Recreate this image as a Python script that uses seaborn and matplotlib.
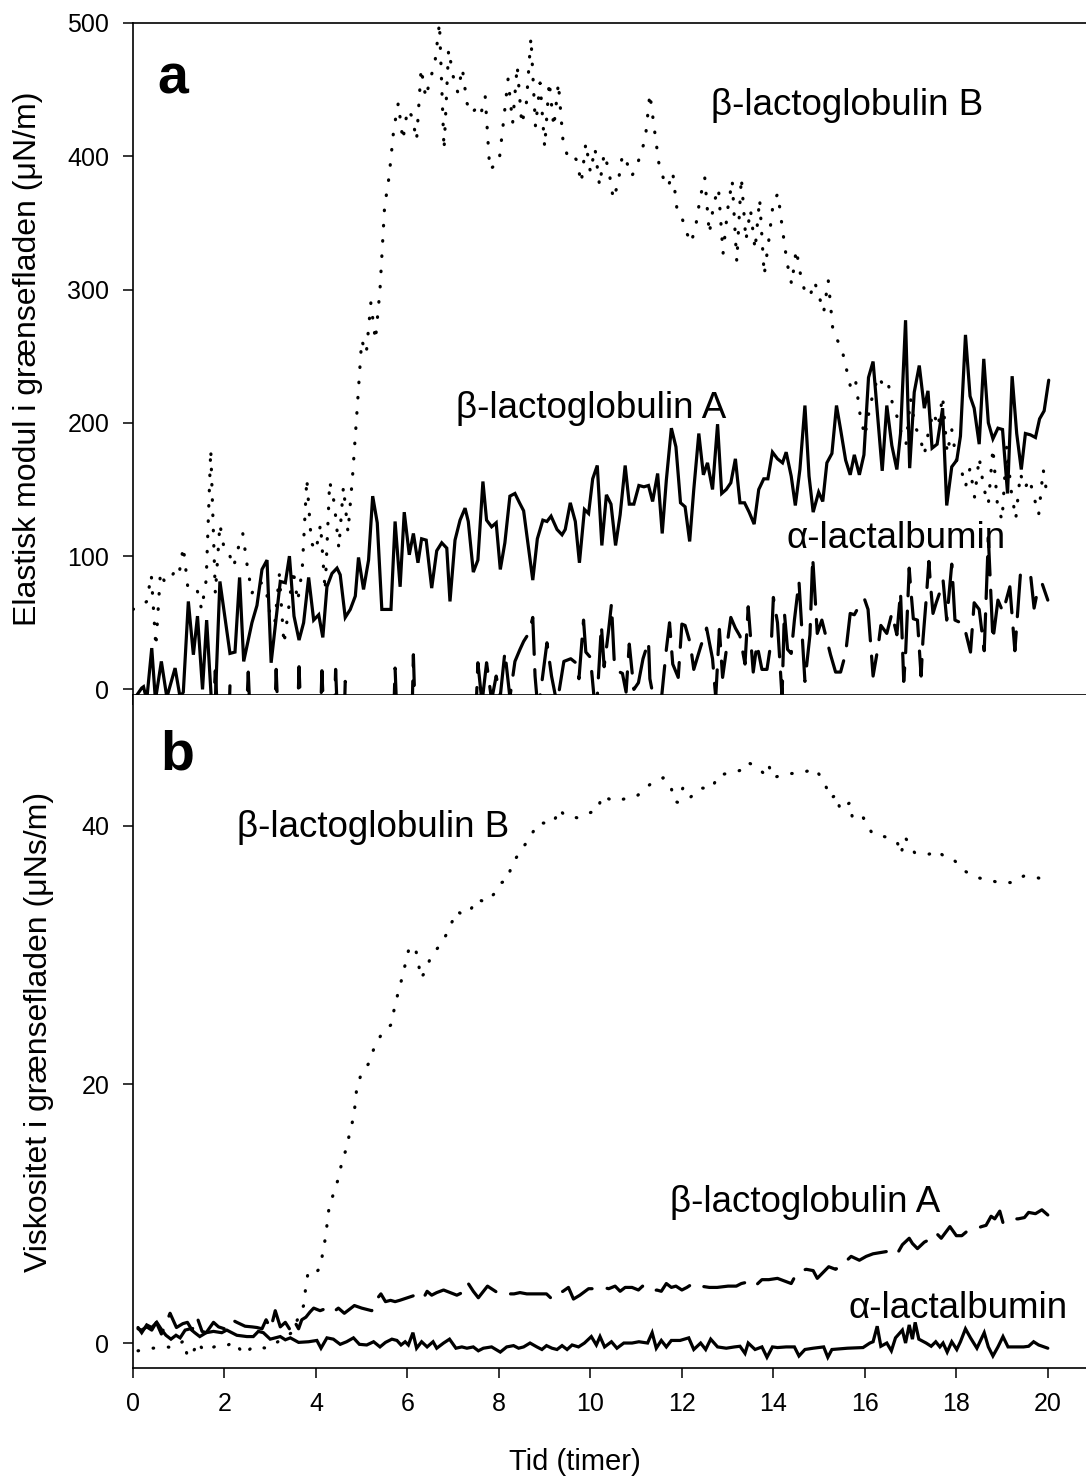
import numpy as np
import pandas as pd
import matplotlib
matplotlib.use("Agg")
import matplotlib.pyplot as plt
import seaborn as sns

sns.set_theme(style="white")
plt.rcParams["font.family"] = ["Liberation Sans", "DejaVu Sans"]
plt.rcParams["lines.scale_dashes"] = False
plt.rcParams.update({"text.color": "black", "axes.labelcolor": "black",
                     "xtick.color": "black", "ytick.color": "black"})

# ---------------- panel a: elastic modulus (uN/m) ----------------
# beta-lactoglobulin B (dotted), sampled every 0.1 h
tB_a = [round(0.1 * i, 1) for i in range(201)]
vB_a = [60, 62, 63, 66, 86, 32, 88, 80, 82, 88,
        85, 107, 76, 74, 75, 60, 82, 180, 72, 124,
        104, 102, 92, 106, 117, 92, 72, 80, 80, 77,
        55, 50, 86, 34, 60, 90, 66, 90, 158, 110,
        104, 124, 74, 156, 140, 106, 152, 118, 160, 210,
        262, 252, 290, 262, 300, 362, 385, 420, 440, 412,
        435, 430, 412, 466, 444, 458, 470, 500, 405, 480,
        460, 448, 466, 440, 432, 436, 431, 445, 390, 393,
        395, 426, 458, 425, 468, 424, 440, 489, 422, 455,
        407, 456, 422, 455, 412, 400, 402, 397, 380, 410,
        388, 406, 378, 402, 390, 368, 379, 401, 395, 385,
        391, 402, 413, 447, 420, 394, 383, 377, 388, 358,
        354, 343, 335, 347, 369, 384, 342, 365, 376, 327,
        360, 382, 321, 384, 337, 360, 330, 368, 311, 337,
        366, 372, 345, 320, 304, 330, 310, 297, 295, 306,
        295, 283, 307, 270, 262, 255, 240, 225, 231, 205,
        190, 210, 225, 235, 228, 231, 215, 205, 192, 184,
        218, 197, 190, 176, 195, 208, 197, 220, 177, 195,
        172, 166, 152, 166, 144, 174, 151, 139, 181, 138,
        127, 182, 149, 128, 162, 151, 158, 144, 131, 165,
        142]

# beta-lactoglobulin A (solid)
tA_a = [0.05, 0.19, 0.23, 0.3, 0.41, 0.49, 0.62, 0.74, 0.92, 1.03,
        1.1, 1.21, 1.32, 1.41, 1.52, 1.61, 1.71, 1.8, 1.9, 2.12,
        2.23, 2.33, 2.42, 2.6, 2.71, 2.82, 2.93, 3.02, 3.22, 3.33,
        3.42, 3.52, 3.63, 3.73, 3.84, 3.95, 4.06, 4.15, 4.24, 4.35,
        4.46, 4.53, 4.64, 4.75, 4.86, 4.93, 5.04, 5.15, 5.24, 5.34,
        5.44, 5.54, 5.64, 5.73, 5.84, 5.93, 6.04, 6.13, 6.23, 6.31,
        6.41, 6.53, 6.64, 6.75, 6.86, 6.93, 7.04, 7.15, 7.26, 7.33,
        7.44, 7.54, 7.65, 7.73, 7.84, 7.94, 8.03, 8.13, 8.24, 8.35,
        8.45, 8.54, 8.74, 8.84, 8.96, 9.05, 9.14, 9.27, 9.38, 9.45,
        9.56, 9.67, 9.76, 9.87, 9.96, 10.05, 10.15, 10.25, 10.35, 10.45,
        10.55, 10.65, 10.76, 10.85, 10.95, 11.06, 11.17, 11.27, 11.36, 11.47,
        11.57, 11.66, 11.77, 11.87, 11.97, 12.07, 12.17, 12.26, 12.37, 12.47,
        12.56, 12.67, 12.78, 12.87, 12.97, 13.07, 13.17, 13.27, 13.37, 13.47,
        13.58, 13.68, 13.79, 13.88, 13.98, 14.09, 14.2, 14.28, 14.39, 14.48,
        14.58, 14.69, 14.78, 14.87, 14.99, 15.08, 15.17, 15.28, 15.38, 15.47,
        15.58, 15.68, 15.77, 15.88, 15.98, 16.08, 16.18, 16.28, 16.38, 16.48,
        16.59, 16.7, 16.78, 16.89, 16.98, 17.08, 17.19, 17.3, 17.38, 17.47,
        17.58, 17.7, 17.79, 17.9, 18.01, 18.09, 18.2, 18.3, 18.39, 18.5,
        18.6, 18.7, 18.8, 18.91, 19.01, 19.12, 19.22, 19.32, 19.42, 19.51,
        19.62, 19.73, 19.82, 19.92, 20.02]
vA_a = [-6, 1, 2, -8, 31, -8, 21, -6, 16, -6,
        -2, 66, 26, 55, 0, 52, -6, -8, 81, 27,
        28, 84, 21, 50, 63, 90, 97, 20, 81, 80,
        100, 55, 37, 50, 84, 52, 56, 39, 77, 87,
        91, 86, 54, 60, 70, 99, 75, 97, 145, 125,
        60, 60, 60, 126, 77, 133, 101, 117, 95, 113,
        112, 76, 104, 110, 106, 66, 112, 127, 136, 126,
        88, 97, 156, 127, 122, 125, 90, 110, 145, 147,
        140, 134, 82, 113, 127, 126, 130, 120, 116, 120,
        140, 126, 95, 135, 132, 158, 168, 108, 146, 139,
        108, 131, 168, 139, 139, 153, 152, 153, 141, 162,
        117, 157, 196, 182, 140, 137, 111, 150, 192, 161,
        170, 150, 199, 147, 150, 155, 173, 140, 140, 133,
        124, 150, 158, 158, 178, 173, 170, 178, 160, 138,
        165, 213, 160, 133, 148, 141, 170, 177, 213, 195,
        172, 161, 176, 161, 176, 234, 246, 205, 164, 213,
        183, 165, 192, 277, 166, 223, 243, 211, 224, 181,
        184, 211, 138, 167, 172, 190, 266, 220, 211, 184,
        248, 200, 188, 196, 195, 147, 235, 192, 165, 192,
        191, 189, 203, 209, 232]

# alpha-lactalbumin (dashed)
tL_a = [0.0, 1.75, 1.8, 1.85, 2.1, 2.12, 2.15, 2.48, 2.52, 2.56,
        3.1, 3.13, 3.17, 3.6, 3.63, 3.67, 4.1, 4.13, 4.17, 4.4,
        4.43, 4.47, 4.62, 4.64, 4.67, 5.7, 5.73, 5.77, 6.1, 6.13,
        6.17, 7.5, 7.54, 7.63, 7.73, 7.84, 7.94, 8.03, 8.13, 8.24,
        8.35, 8.46, 8.54, 8.65, 8.74, 8.79, 8.84, 8.9, 9.05, 9.15,
        9.27, 9.42, 9.57, 9.68, 9.75, 9.85, 9.9, 10.0, 10.09, 10.15,
        10.24, 10.3, 10.39, 10.46, 10.52, 10.58, 10.7, 10.78, 10.85, 10.95,
        11.05, 11.15, 11.27, 11.3, 11.4, 11.55, 11.66, 11.73, 11.8, 11.92,
        12.0, 12.07, 12.18, 12.26, 12.41, 12.54, 12.67, 12.74, 12.82, 12.89,
        12.97, 13.07, 13.17, 13.27, 13.38, 13.45, 13.56, 13.64, 13.75, 13.86,
        13.96, 14.0, 14.09, 14.19, 14.24, 14.31, 14.39, 14.46, 14.56, 14.63,
        14.69, 14.8, 14.86, 14.96, 15.06, 15.17, 15.25, 15.36, 15.47, 15.58,
        15.68, 15.77, 15.88, 15.99, 16.07, 16.18, 16.29, 16.35, 16.48, 16.59,
        16.7, 16.78, 16.85, 16.89, 16.97, 17.0, 17.06, 17.15, 17.23, 17.27,
        17.34, 17.4, 17.43, 17.49, 17.56, 17.64, 17.71, 17.79, 17.9, 17.97,
        18.16, 18.31, 18.39, 18.5, 18.61, 18.7, 18.8, 18.91, 19.02, 19.17,
        19.28, 19.4, 19.51, 19.62, 19.7, 19.77, 19.88, 20.0]
vL_a = [-20, -20, 14, -20, -20, 3, -20, -20, 13, -20,
        -20, 15, -20, -20, 17, -20, -20, 14, -20, -20,
        15, -20, -20, 6, -20, -20, 16, -20, -20, 26,
        -20, -15, 20, -10, 20, -8, 10, -5, 28, -6,
        21, 30, 36, 42, 54, 10, -10, -5, 35, 10,
        -11, 21, 23, 20, 8, 52, 28, 24, -10, -6,
        48, 17, 42, 64, 22, 14, 12, -2, 34, 0,
        5, 23, 36, 8, -10, -8, 30, 50, 19, 9,
        49, 48, 35, 15, 32, 46, 23, -6, 45, 9,
        29, 54, 46, 40, 19, 62, 13, 34, 15, 15,
        38, 69, 50, -6, 58, 30, 27, 52, 81, 40,
        6, 41, 99, 42, 52, 37, 26, 13, 13, 27,
        57, 56, 63, 68, 60, 10, 32, 48, 42, 57,
        41, 73, 6, 26, 91, 77, 53, 52, 10, 37,
        67, 96, 81, 57, 65, 73, 82, 52, 94, 52,
        49, 28, 65, 60, 29, 114, 37, 67, 58, 77,
        29, 86, 85, 87, 61, 73, 79, 67]

# ---------------- panel b: viscosity (uNs/m) ----------------
tB_b = [0.11, 0.43, 0.72, 0.9, 1.12, 1.19, 1.29, 1.42, 1.54, 1.85,
        2.05, 2.22, 2.42, 2.61, 2.95, 3.47, 3.73, 3.77, 3.82, 3.91,
        4.09, 4.15, 4.21, 4.25, 4.29, 4.38, 4.47, 4.55, 4.65, 4.73,
        4.81, 4.86, 4.89, 4.98, 5.15, 5.27, 5.45, 5.64, 5.71, 5.79,
        5.88, 5.96, 6.04, 6.17, 6.24, 6.29, 6.41, 6.51, 6.77, 6.93,
        7.08, 7.21, 7.37, 7.5, 7.73, 7.94, 8.06, 8.19, 8.28, 8.45,
        8.66, 8.86, 9.19, 9.32, 9.43, 9.72, 9.99, 10.17, 10.24, 10.52,
        10.79, 11.02, 11.34, 11.59, 11.76, 11.82, 11.91, 12.03, 12.19, 12.39,
        12.67, 12.78, 13.11, 13.3, 13.42, 13.63, 13.77, 13.89, 13.98, 14.3,
        14.63, 14.92, 15.12, 15.25, 15.38, 15.46, 15.68, 15.73, 15.82, 15.97,
        16.16, 16.48, 16.71, 16.79, 16.88, 17.09, 17.41, 17.57, 17.81, 17.96,
        18.18, 18.43, 18.72, 18.92, 19.25, 19.47, 19.72, 19.88, 20.0]
vB_b = [-0.6, -0.4, -0.3, -0.35, 0.2, -1.1, -0.9, 0.1, -0.6, -0.2,
        -0.2, 0.1, -0.9, -0.3, -0.4, 0.8, 2.9, 4.1, 5.3, 5.1,
        5.8, 7.0, 8.2, 9.4, 10.6, 11.5, 12.5, 13.7, 14.9, 16.1,
        17.3, 18.5, 19.7, 20.7, 21.6, 22.8, 24.0, 24.6, 25.8, 27.0,
        28.2, 29.4, 30.6, 30.6, 29.4, 28.2, 28.8, 29.9, 31.0, 32.2,
        33.4, 33.1, 33.4, 34.3, 34.1, 34.9, 35.6, 35.8, 37.0, 37.9,
        39.0, 40.2, 40.2, 41.3, 40.8, 40.6, 41.0, 41.2, 42.3, 41.9,
        42.1, 42.3, 43.3, 43.7, 43.1, 41.9, 41.8, 43.0, 42.2, 42.9,
        42.9, 43.9, 44.1, 44.3, 44.9, 44.6, 44.1, 44.8, 43.7, 44.0,
        44.1, 44.4, 43.3, 42.1, 42.4, 41.2, 41.8, 40.5, 40.4, 40.6,
        39.4, 39.1, 38.7, 37.8, 39.1, 37.9, 37.8, 38.1, 37.4, 37.3,
        36.5, 36.0, 35.8, 35.6, 35.6, 36.1, 36.0, 35.9, 35.9]

tA_b = [0.11, 0.19, 0.3, 0.41, 0.51, 0.62, 0.71, 0.81, 0.95, 1.09,
        1.19, 1.29, 1.4, 1.51, 1.6, 1.76, 1.87, 2.0, 2.16, 2.27,
        2.45, 2.6, 2.71, 2.82, 2.91, 3.01, 3.11, 3.22, 3.33, 3.42,
        3.51, 3.62, 3.69, 3.78, 3.87, 3.95, 4.09, 4.24, 4.38, 4.49,
        4.62, 4.84, 5.0, 5.11, 5.22, 5.33, 5.42, 5.52, 5.63, 5.73,
        5.83, 6.0, 6.17, 6.34, 6.43, 6.53, 6.64, 6.79, 7.08, 7.2,
        7.3, 7.33, 7.44, 7.55, 7.66, 7.75, 7.88, 8.01, 8.2, 8.33,
        8.46, 8.61, 8.75, 9.04, 9.16, 9.28, 9.4, 9.52, 9.63, 9.77,
        9.96, 10.05, 10.17, 10.28, 10.4, 10.54, 10.65, 10.76, 10.91, 11.05,
        11.14, 11.25, 11.35, 11.45, 11.55, 11.66, 11.77, 11.87, 12.0, 12.11,
        12.24, 12.41, 12.6, 12.77, 13.01, 13.19, 13.3, 13.42, 13.53, 13.6,
        13.75, 13.9, 14.09, 14.24, 14.39, 14.48, 14.61, 14.72, 14.87, 14.96,
        15.1, 15.21, 15.36, 15.49, 15.7, 15.88, 16.03, 16.18, 16.35, 16.52,
        16.63, 16.74, 16.82, 16.97, 17.04, 17.15, 17.3, 17.47, 17.56, 17.67,
        17.86, 18.0, 18.12, 18.22, 18.4, 18.55, 18.65, 18.76, 18.84, 18.95,
        19.02, 19.1, 19.17, 19.35, 19.49, 19.58, 19.73, 19.87, 20.0]
vA_b = [1.1, 1.0, 1.25, 1.0, 1.6, 0.7, 1.4, 2.3, 1.2, 1.5,
        1.6, 1.0, 2.0, 0.9, 0.8, 1.6, 1.25, 1.1, 1.8, 1.6,
        1.3, 1.25, 1.2, 1.1, 1.8, 1.1, 2.5, 1.25, 1.6, 1.1,
        1.8, 1.1, 1.8, 2.0, 2.4, 2.7, 2.5, 2.7, 2.4, 2.7,
        2.3, 2.9, 2.7, 2.6, 2.5, 3.4, 3.8, 3.2, 3.3, 3.2,
        3.3, 3.5, 3.7, 3.4, 4.0, 3.7, 3.9, 4.1, 3.7, 3.9,
        4.0, 4.6, 4.0, 3.5, 4.0, 4.4, 4.1, 3.8, 3.8, 3.8,
        3.9, 3.8, 3.8, 3.8, 3.4, 3.8, 4.0, 4.3, 3.4, 3.7,
        4.2, 4.2, 4.3, 4.3, 4.2, 4.4, 4.0, 4.3, 4.3, 4.1,
        4.4, 4.3, 4.0, 4.1, 4.0, 4.6, 4.3, 4.4, 4.1, 4.3,
        4.6, 4.4, 4.3, 4.3, 4.4, 4.4, 4.6, 4.7, 4.4, 4.4,
        4.9, 4.9, 5.0, 4.8, 4.6, 5.2, 5.6, 5.7, 5.6, 5.0,
        5.5, 5.9, 5.7, 6.0, 6.7, 6.4, 6.7, 6.9, 7.0, 7.1,
        7.4, 7.1, 7.6, 8.1, 7.7, 7.3, 7.8, 8.1, 8.5, 8.1,
        9.0, 8.3, 8.3, 8.6, 8.8, 9.0, 9.1, 9.8, 9.6, 10.2,
        9.3, 9.5, 9.6, 9.6, 9.7, 10.1, 10.0, 10.3, 9.9]

tL_b = [0.11, 0.19, 0.3, 0.41, 0.52, 0.63, 0.72, 0.83, 0.94, 1.03,
        1.14, 1.25, 1.35, 1.46, 1.6, 1.76, 1.94, 2.05, 2.27, 2.49,
        2.63, 2.74, 2.85, 3.0, 3.11, 3.22, 3.33, 3.44, 3.62, 3.84,
        4.02, 4.11, 4.24, 4.38, 4.53, 4.67, 4.82, 4.95, 5.11, 5.26,
        5.4, 5.52, 5.66, 5.77, 5.86, 5.95, 6.02, 6.12, 6.2, 6.31,
        6.43, 6.56, 6.64, 6.79, 6.92, 7.06, 7.19, 7.3, 7.44, 7.55,
        7.66, 7.84, 8.03, 8.17, 8.32, 8.43, 8.54, 8.68, 8.83, 8.94,
        9.04, 9.16, 9.27, 9.38, 9.49, 9.6, 9.74, 9.87, 10.02, 10.13,
        10.21, 10.31, 10.46, 10.58, 10.73, 10.91, 11.06, 11.25, 11.35, 11.44,
        11.55, 11.66, 11.77, 11.96, 12.15, 12.26, 12.41, 12.52, 12.63, 12.78,
        12.97, 13.15, 13.27, 13.38, 13.45, 13.6, 13.75, 13.86, 13.98, 14.09,
        14.28, 14.46, 14.56, 14.69, 14.87, 15.1, 15.19, 15.28, 15.62, 15.96,
        16.11, 16.18, 16.27, 16.35, 16.48, 16.58, 16.67, 16.82, 16.89, 16.97,
        17.04, 17.1, 17.18, 17.34, 17.45, 17.55, 17.64, 17.71, 17.8, 17.9,
        18.01, 18.09, 18.2, 18.31, 18.45, 18.61, 18.7, 18.8, 18.91, 19.02,
        19.13, 19.28, 19.47, 19.58, 19.69, 19.8, 20.0]
vL_b = [1.2, 0.8, 1.4, 1.2, 1.6, 1.0, 0.6, 0.3, 0.6, 0.4,
        1.0, 1.1, 0.8, 0.5, 0.8, 0.9, 0.8, 1.0, 0.6, 0.5,
        0.5, 0.9, 0.8, 0.3, 0.4, 0.5, 0.25, 0.4, 0.05, 0.1,
        0.2, -0.4, 0.4, 0.3, -0.1, 0.1, 0.4, -0.1, -0.15, 0.1,
        -0.3, 0.05, 0.3, 0.2, -0.15, 0.1, -0.15, 0.8, -0.4, 0.1,
        -0.3, 0.1, -0.4, 0.0, 0.3, -0.4, -0.3, -0.4, -0.3, -0.6,
        -0.4, -0.3, -0.7, -0.3, -0.2, -0.4, -0.3, 0.0, -0.3, -0.5,
        -0.2, -0.4, -0.5, -0.2, -0.5, -0.15, -0.3, 0.0, 0.5, -0.15,
        0.5, -0.3, 0.1, -0.4, 0.0, 0.0, 0.1, 0.0, 0.8, -0.4,
        0.2, -0.3, 0.2, 0.2, 0.4, -0.5, 0.0, -0.5, 0.3, -0.3,
        -0.4, -0.3, -0.25, -0.8, 0.0, -0.5, -0.3, -1.1, -0.3, -0.35,
        -0.3, -0.3, -1.0, -0.5, -0.4, -0.3, -1.1, -0.5, -0.4, -0.35,
        0.0, 0.1, 1.3, -0.25, 0.0, -0.6, 0.4, 1.0, 0.0, 1.4,
        0.3, 1.6, 0.3, 0.0, -0.25, 0.1, -0.3, 0.0, -0.7, 0.1,
        -0.5, 0.1, 1.1, 0.4, -0.4, 0.8, -0.3, -1.0, -0.3, 0.5,
        -0.3, -0.3, -0.3, -0.25, 0.1, -0.15, -0.4]

W, H = 1086, 1483
fig = plt.figure(figsize=(W / 100, H / 100), dpi=100)


def fx(px):
    return px / W


def fy(py):
    return 1 - py / H


ax_a = fig.add_axes([fx(133), fy(695), 1 - fx(133), fy(23) - fy(695)])
ax_b = fig.add_axes([fx(133), fy(1368), 1 - fx(133), fy(695) - fy(1368)])

LW = 2.3
DOT = (0, (0.4, 10.6))
DASH = (0, (30, 11))


def draw(ax, t, v, style):
    sns.lineplot(x=t, y=v, ax=ax, color="black", linewidth=LW,
                 estimator=None, sort=False)
    ln = ax.lines[-1]
    if style is not None:
        ln.set_linestyle(style)
    ln.set_dash_capstyle("round")
    ln.set_solid_joinstyle("miter")
    return ln


draw(ax_a, tB_a, vB_a, DOT)
draw(ax_a, tA_a, vA_a, None)
draw(ax_a, tL_a, vL_a, DASH)

draw(ax_b, tB_b, vB_b, DOT)
draw(ax_b, tA_b, vA_b, DASH)
draw(ax_b, tL_b, vL_b, None)

xmax = (W - 132.8) / 45.75
ax_a.set_xlim(0, xmax)
ax_b.set_xlim(0, xmax)
ax_a.set_ylim(-4.2, 500)
ax_b.set_ylim(-1.93, 50.1)

xt = [0, 2, 4, 6, 8, 10, 12, 14, 16, 18, 20]
for ax in (ax_a, ax_b):
    ax.set_xticks(xt)
    ax.spines["right"].set_visible(False)
    for s in ("left", "bottom", "top"):
        ax.spines[s].set_color("black")
        ax.spines[s].set_linewidth(1.2)
    ax.tick_params(axis="both", direction="out", length=7, width=1.1,
                   color="black", labelsize=18, pad=10, labelcolor="black",
                   bottom=True, left=True)
    ax.grid(False)
    ax.set_xlabel("")

ax_b.spines["top"].set_visible(False)
ax_a.tick_params(axis="x", labelbottom=False)
ax_a.set_yticks([0, 100, 200, 300, 400, 500])
ax_b.set_yticks([0, 20, 40])

ax_a.set_ylabel("Elastisk modul i grænsefladen (\u03bcN/m)", fontsize=23)
ax_b.set_ylabel("Viskositet i grænsefladen (\u03bcNs/m)", fontsize=23)
ax_a.yaxis.set_label_coords(-0.094, 0.5)
ax_b.yaxis.set_label_coords(-0.083, 0.5)

fig.text(fx(575), fy(1462), "Tid (timer)", fontsize=21, ha="center", va="center")

fig.text(fx(157), fy(93), "a", fontsize=40, fontweight="bold", ha="left", va="baseline")
fig.text(fx(160), fy(770), "b", fontsize=40, fontweight="bold", ha="left", va="baseline")

LAB = 26.5
fig.text(fx(711), fy(115), "\u03b2-lactoglobulin B", fontsize=LAB, ha="left", va="baseline")
fig.text(fx(456), fy(418), "\u03b2-lactoglobulin A", fontsize=LAB, ha="left", va="baseline")
fig.text(fx(787), fy(548), "\u03b1-lactalbumin", fontsize=LAB, ha="left", va="baseline")
fig.text(fx(237), fy(837), "\u03b2-lactoglobulin B", fontsize=LAB, ha="left", va="baseline")
fig.text(fx(670), fy(1212), "\u03b2-lactoglobulin A", fontsize=LAB, ha="left", va="baseline")
fig.text(fx(849), fy(1318), "\u03b1-lactalbumin", fontsize=LAB, ha="left", va="baseline")

fig.savefig("out.png", dpi=100)
